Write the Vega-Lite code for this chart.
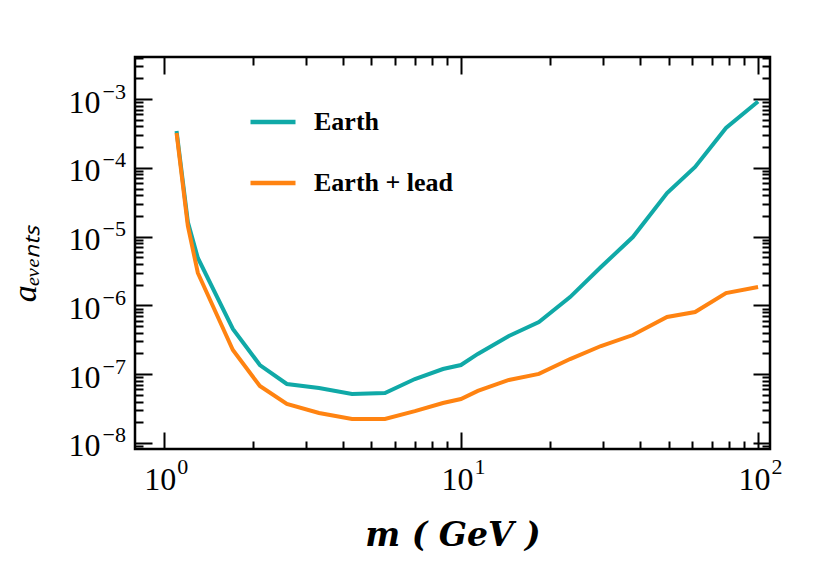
{
  "$schema": "https://vega.github.io/schema/vega-lite/v6.json",
  "width": 635,
  "height": 392,
  "autosize": {"type": "none"},
  "padding": {"left": 135, "top": 57, "right": 60, "bottom": 113},
  "background": "white",
  "config": {
    "view": {"stroke": "black", "strokeWidth": 2.5},
    "axis": {"domain": false, "grid": false, "tickColor": "black", "tickWidth": 2, "labelFont": "Liberation Serif", "labelColor": "black", "labelOverlap": false, "labelBound": false, "titleColor": "black"}
  },
  "data": {"values": [
    {"m": 1.104, "a": 3.43e-4, "series": "Earth"},
    {"m": 1.205, "a": 1.63e-5, "series": "Earth"},
    {"m": 1.302, "a": 4.89e-6, "series": "Earth"},
    {"m": 1.708, "a": 4.54e-7, "series": "Earth"},
    {"m": 2.105, "a": 1.36e-7, "series": "Earth"},
    {"m": 2.595, "a": 7.21e-8, "series": "Earth"},
    {"m": 3.33, "a": 6.3e-8, "series": "Earth"},
    {"m": 4.30, "a": 5.16e-8, "series": "Earth"},
    {"m": 5.55, "a": 5.33e-8, "series": "Earth"},
    {"m": 7.0, "a": 8.5e-8, "series": "Earth"},
    {"m": 8.70, "a": 1.19e-7, "series": "Earth"},
    {"m": 10.0, "a": 1.36e-7, "series": "Earth"},
    {"m": 11.4, "a": 1.97e-7, "series": "Earth"},
    {"m": 14.5, "a": 3.59e-7, "series": "Earth"},
    {"m": 18.3, "a": 5.74e-7, "series": "Earth"},
    {"m": 23.3, "a": 1.32e-6, "series": "Earth"},
    {"m": 29.6, "a": 3.61e-6, "series": "Earth"},
    {"m": 37.9, "a": 9.86e-6, "series": "Earth"},
    {"m": 49.4, "a": 4.30e-5, "series": "Earth"},
    {"m": 61.4, "a": 1.03e-4, "series": "Earth"},
    {"m": 78.0, "a": 3.79e-4, "series": "Earth"},
    {"m": 100, "a": 9.2e-4, "series": "Earth"},
    {"m": 1.104, "a": 3.2e-4, "series": "Earth + lead"},
    {"m": 1.205, "a": 1.43e-5, "series": "Earth + lead"},
    {"m": 1.302, "a": 2.96e-6, "series": "Earth + lead"},
    {"m": 1.708, "a": 2.25e-7, "series": "Earth + lead"},
    {"m": 2.105, "a": 6.73e-8, "series": "Earth + lead"},
    {"m": 2.595, "a": 3.69e-8, "series": "Earth + lead"},
    {"m": 3.33, "a": 2.73e-8, "series": "Earth + lead"},
    {"m": 4.30, "a": 2.23e-8, "series": "Earth + lead"},
    {"m": 5.55, "a": 2.23e-8, "series": "Earth + lead"},
    {"m": 7.0, "a": 2.9e-8, "series": "Earth + lead"},
    {"m": 8.70, "a": 3.81e-8, "series": "Earth + lead"},
    {"m": 10.0, "a": 4.36e-8, "series": "Earth + lead"},
    {"m": 11.4, "a": 5.71e-8, "series": "Earth + lead"},
    {"m": 14.5, "a": 8.24e-8, "series": "Earth + lead"},
    {"m": 18.3, "a": 1.01e-7, "series": "Earth + lead"},
    {"m": 23.3, "a": 1.66e-7, "series": "Earth + lead"},
    {"m": 29.6, "a": 2.57e-7, "series": "Earth + lead"},
    {"m": 37.9, "a": 3.71e-7, "series": "Earth + lead"},
    {"m": 49.4, "a": 6.78e-7, "series": "Earth + lead"},
    {"m": 61.4, "a": 8.0e-7, "series": "Earth + lead"},
    {"m": 78.0, "a": 1.51e-6, "series": "Earth + lead"},
    {"m": 100, "a": 1.85e-6, "series": "Earth + lead"}
  ]},
  "layer": [
    {
      "mark": {"type": "line", "strokeWidth": 4, "clip": true},
      "encoding": {
        "x": {"field": "m", "type": "quantitative",
          "scale": {"type": "log", "domain": [0.8, 109.7], "nice": false},
          "axis": {"orient": "bottom", "title": "m ( GeV )", "titleFont": "DejaVu Serif", "titleFontSize": 33, "titleFontStyle": "italic", "titleFontWeight": "bold", "titleBaseline": "alphabetic", "titleY": 96,
            "values": [1,2,3,4,5,6,7,8,9,10,20,30,40,50,60,70,80,90,100],
            "tickSize": {"condition": {"test": "abs(log(datum.value)/LN10 - round(log(datum.value)/LN10)) < 0.01", "value": -17}, "value": -8},
            "labelPadding": 57, "labelFontSize": 32, "labelBaseline": "alphabetic", "labelAlign": "center", "labelOffset": -4,
            "labelExpr": "abs(log(datum.value)/LN10 - round(log(datum.value)/LN10)) < 0.01 ? '10' : ''"}},
        "y": {"field": "a", "type": "quantitative",
          "scale": {"type": "log", "domain": [8.18e-9, 4.08e-3], "nice": false},
          "axis": {"orient": "left", "title": "aₑᵥₑₙₜₛ", "titleFont": "Liberation Serif", "titleFontSize": 34, "titleFontStyle": "italic", "titleFontWeight": "normal", "titleBaseline": "alphabetic", "titleAlign": "center", "titleX": -100, "titleY": 206,
            "values": [9e-9,1e-8,2e-8,3e-8,4e-8,5e-8,6e-8,7e-8,8e-8,9e-8,1e-7,2e-7,3e-7,4e-7,5e-7,6e-7,7e-7,8e-7,9e-7,1e-6,2e-6,3e-6,4e-6,5e-6,6e-6,7e-6,8e-6,9e-6,1e-5,2e-5,3e-5,4e-5,5e-5,6e-5,7e-5,8e-5,9e-5,1e-4,2e-4,3e-4,4e-4,5e-4,6e-4,7e-4,8e-4,9e-4,1e-3,2e-3,3e-3,4e-3],
            "tickSize": {"condition": {"test": "abs(log(datum.value)/LN10 - round(log(datum.value)/LN10)) < 0.01", "value": -17}, "value": -8},
            "labelPadding": 52, "labelFontSize": 32, "labelBaseline": "alphabetic", "labelAlign": "right", "labelOffset": 13,
            "labelExpr": "abs(log(datum.value)/LN10 - round(log(datum.value)/LN10)) < 0.01 ? '10' : ''"}},
        "color": {"field": "series", "type": "nominal",
          "scale": {"domain": ["Earth", "Earth + lead"], "range": ["#10A9A7", "#FF8311"]},
          "legend": {"title": null, "orient": "none", "legendX": 113, "legendY": 40, "padding": 0,
            "symbolType": "stroke", "symbolSize": 2025, "symbolStrokeWidth": 4.5,
            "labelFont": "Liberation Serif", "labelFontSize": 26, "labelFontWeight": "bold", "labelColor": "black",
            "labelOffset": 16, "rowPadding": 23, "labelLimit": 400}}
      }
    },
    {
      "mark": {"type": "line", "opacity": 0},
      "encoding": {
        "x": {"field": "m", "type": "quantitative",
          "scale": {"type": "log", "domain": [0.8, 109.7], "nice": false},
          "axis": {"orient": "top", "title": null, "labels": false,
            "values": [1,2,3,4,5,6,7,8,9,10,20,30,40,50,60,70,80,90,100],
            "tickSize": {"condition": {"test": "abs(log(datum.value)/LN10 - round(log(datum.value)/LN10)) < 0.01", "value": -17}, "value": -8}}},
        "y": {"field": "a", "type": "quantitative",
          "scale": {"type": "log", "domain": [8.18e-9, 4.08e-3], "nice": false},
          "axis": {"orient": "right", "title": null, "labels": false,
            "values": [9e-9,1e-8,2e-8,3e-8,4e-8,5e-8,6e-8,7e-8,8e-8,9e-8,1e-7,2e-7,3e-7,4e-7,5e-7,6e-7,7e-7,8e-7,9e-7,1e-6,2e-6,3e-6,4e-6,5e-6,6e-6,7e-6,8e-6,9e-6,1e-5,2e-5,3e-5,4e-5,5e-5,6e-5,7e-5,8e-5,9e-5,1e-4,2e-4,3e-4,4e-4,5e-4,6e-4,7e-4,8e-4,9e-4,1e-3,2e-3,3e-3,4e-3],
            "tickSize": {"condition": {"test": "abs(log(datum.value)/LN10 - round(log(datum.value)/LN10)) < 0.01", "value": -17}, "value": -8}}},
        "detail": {"field": "series", "type": "nominal"}
      }
    },
    {
      "mark": {"type": "line", "opacity": 0},
      "encoding": {
        "x": {"field": "m", "type": "quantitative",
          "scale": {"type": "log", "domain": [0.8, 109.7], "nice": false},
          "axis": {"orient": "bottom", "title": null, "values": [1, 10, 100],
            "ticks": true, "tickOpacity": 0, "tickSize": -17,
            "labelPadding": 41, "labelFontSize": 22, "labelBaseline": "alphabetic", "labelAlign": "left", "labelOffset": 13,
            "labelExpr": "format(round(log(datum.value)/LN10), 'd')"}},
        "y": {"field": "a", "type": "quantitative",
          "scale": {"type": "log", "domain": [8.18e-9, 4.08e-3], "nice": false},
          "axis": {"orient": "left", "title": null, "values": [1e-8, 1e-7, 1e-6, 1e-5, 1e-4, 1e-3],
            "ticks": true, "tickOpacity": 0, "tickSize": -17,
            "labelPadding": 50, "labelFontSize": 22, "labelBaseline": "alphabetic", "labelAlign": "left", "labelOffset": -1,
            "labelExpr": "'−' + format(-round(log(datum.value)/LN10), 'd')"}},
        "detail": {"field": "series", "type": "nominal"}
      }
    }
  ],
  "resolve": {"axis": {"x": "independent", "y": "independent"}}
}
